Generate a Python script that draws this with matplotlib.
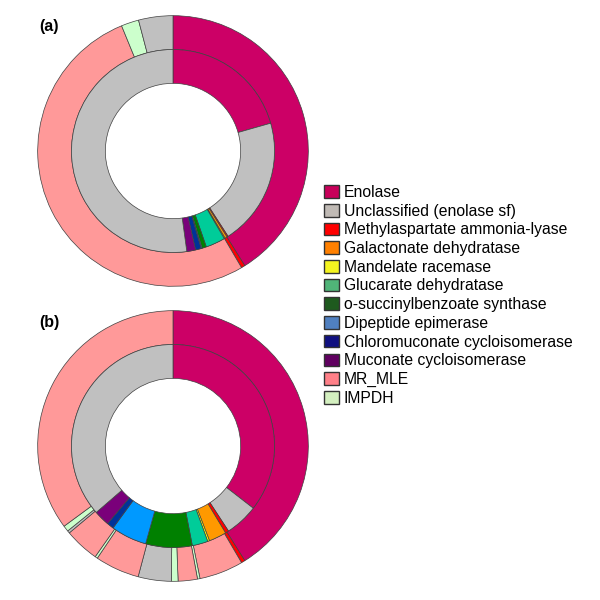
import matplotlib
matplotlib.use("Agg")
import matplotlib.pyplot as plt
from matplotlib.patches import Patch

plt.rcParams['font.family'] = ['Liberation Sans', 'DejaVu Sans']

# legend categories
categories = ["Enolase", "Unclassified (enolase sf)", "Methylaspartate ammonia-lyase",
              "Galactonate dehydratase", "Mandelate racemase", "Glucarate dehydratase",
              "o-succinylbenzoate synthase", "Dipeptide epimerase",
              "Chloromuconate cycloisomerase", "Muconate cycloisomerase", "MR_MLE", "IMPDH"]

# segment values (percent of ring), clockwise from 12 o'clock
a_inner_labels = ["Enolase", "Unclassified", "Methylaspartate", "Galactonate", "Mandelate",
                  "Glucarate", "o-succinylbenzoate", "Dipeptide", "Chloromuconate",
                  "Muconate", "Unclassified"]
a_inner_values = [20.6, 20.3, 0.2, 0.35, 0.15, 3.1, 0.7, 0.15, 0.9, 1.4, 52.2]
a_outer_labels = ["Enolase", "Methylaspartate", "MR_MLE", "IMPDH", "Unclassified"]
a_outer_values = [41.1, 0.45, 52.25, 2.1, 4.1]

b_inner_labels = ["Enolase", "Unclassified", "Methylaspartate", "Galactonate", "Mandelate",
                  "Glucarate", "o-succinylbenzoate", "Dipeptide", "Chloromuconate",
                  "Muconate", "Unclassified"]
b_inner_values = [35.5, 5.3, 0.55, 2.8, 0.3, 2.5, 7.4, 5.7, 1.1, 2.5, 36.35]
b_outer_labels = ["Enolase", "Methylaspartate", "MR_MLE", "IMPDH", "MR_MLE", "IMPDH",
                  "Unclassified", "MR_MLE", "IMPDH", "MR_MLE", "Unclassified", "IMPDH",
                  "MR_MLE"]
b_outer_values = [41.1, 0.45, 5.25, 0.3, 2.3, 0.8, 3.95, 5.3, 0.3, 4.15, 0.3, 0.7, 35.1]

wedge_colors = {
    "Enolase": "#cc0066", "Unclassified": "#c0c0c0", "Methylaspartate": "#ff0000",
    "Galactonate": "#ff9900", "Mandelate": "#ffff00", "Glucarate": "#00cc99",
    "o-succinylbenzoate": "#008000", "Dipeptide": "#0099ff", "Chloromuconate": "#003399",
    "Muconate": "#7a007a", "MR_MLE": "#ff9999", "IMPDH": "#ccffcc",
}
legend_colors = ["#c8005a", "#c0bab5", "#ff0000", "#ff8000", "#f4f420", "#50b478",
                 "#1e5a1e", "#5080c0", "#101080", "#600060", "#ff8088", "#d4f0c0"]

fig = plt.figure(figsize=(6, 6), dpi=100)

wp = dict(width=0.25, edgecolor="#404040", linewidth=0.5)


def donut(rect, inner_labels, inner_values, outer_labels, outer_values):
    ax = fig.add_axes(rect)
    ax.pie(outer_values, radius=1.0, startangle=90, counterclock=False,
           colors=[wedge_colors[k] for k in outer_labels], wedgeprops=wp)
    ax.pie(inner_values, radius=0.75, startangle=90, counterclock=False,
           colors=[wedge_colors[k] for k in inner_labels], wedgeprops=wp)
    ax.set_xlim(-1.005, 1.005)
    ax.set_ylim(-1.005, 1.005)
    ax.set_aspect("equal")
    ax.axis("off")
    return ax


donut([37 / 600, 313 / 600, 272 / 600, 272 / 600],
      a_inner_labels, a_inner_values, a_outer_labels, a_outer_values)
donut([37 / 600, 18 / 600, 272 / 600, 272 / 600],
      b_inner_labels, b_inner_values, b_outer_labels, b_outer_values)

fig.text(39 / 600, 1 - 27 / 600, "(a)", fontsize=11.5, fontweight="bold", va="center")
fig.text(39 / 600, 1 - 322 / 600, "(b)", fontsize=11.5, fontweight="bold", va="center")

handles = [Patch(facecolor=c, edgecolor="#333333", linewidth=1.0) for c in legend_colors]
fig.legend(handles, categories, loc="upper left", bbox_to_anchor=(324 / 600, 1 - 185 / 600),
           frameon=False, fontsize=11.3, handlelength=0.95, handleheight=0.85,
           handletextpad=0.3, labelspacing=0.235, borderpad=0, borderaxespad=0)

fig.savefig("out.png", dpi=100)
